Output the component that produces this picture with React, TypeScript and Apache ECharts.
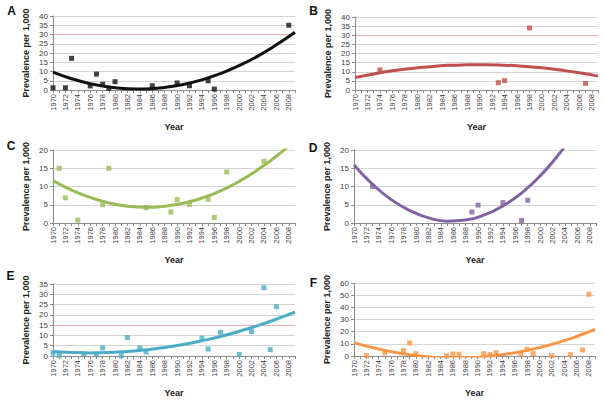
import React, { useEffect, useRef } from "react";
import * as echarts from "echarts";

// ---- data ----
const trendYears = [1970, 1973, 1976, 1979, 1982, 1985, 1988, 1991, 1994, 1997, 2000, 2003, 2006, 2009];

const aYears = [1970, 1972, 1973, 1976, 1977, 1978, 1979, 1980, 1986, 1990, 1992, 1995, 1996, 2008];
const aValues = [1.2, 1.2, 17.1, 2.2, 8.6, 3.1, 0.9, 4.5, 2.3, 3.8, 2.3, 5.0, 0.5, 35];
const aTrend = [9.7, 6.1, 3.4, 1.6, 0.7, 0.6, 1.4, 3.0, 5.5, 8.9, 13.2, 18.3, 24.4, 31.2];

const bYears = [1974, 1993, 1994, 1998, 2007];
const bValues = [11, 4.0, 5.1, 34, 3.6];
const bTrend = [6.9, 8.8, 10.5, 11.8, 12.8, 13.5, 13.8, 13.9, 13.6, 13.0, 12.2, 10.9, 9.4, 7.6];

const cYears = [1971, 1972, 1974, 1978, 1979, 1985, 1989, 1990, 1992, 1995, 1996, 1998, 2004];
const cValues = [15, 6.9, 0.8, 5.0, 15, 4.2, 3.0, 6.4, 5.1, 6.5, 1.5, 14.0, 16.9];
const cTrend = [11.6, 9.0, 7.0, 5.5, 4.6, 4.3, 4.6, 5.4, 6.8, 8.8, 11.4, 14.6, 18.3, 22.6];

const dYears = [1973, 1989, 1990, 1994, 1997, 1998];
const dValues = [10.0, 3.0, 4.9, 5.6, 0.7, 6.2];
const dTrend = [15.9, 10.6, 6.4, 3.4, 1.4, 0.5, 0.8, 2.2, 4.7, 8.2, 12.9, 18.8, 25.7, 33.7];

const eYears = [1970, 1971, 1975, 1977, 1978, 1981, 1982, 1984, 1985, 1994, 1995, 1997, 2000, 2002, 2004, 2005, 2006];
const eValues = [1.5, 0.3, 1.0, 0.9, 4.0, 0.2, 9.0, 3.9, 1.9, 8.7, 3.4, 11.5, 0.8, 11.9, 33.2, 3.1, 24.0];
const eTrend = [2.2, 1.7, 1.5, 1.7, 2.2, 3.0, 4.1, 5.6, 7.4, 9.5, 12.0, 14.8, 17.9, 21.3];

const fYears = [1972, 1975, 1978, 1979, 1980, 1985, 1986, 1987, 1991, 1992, 1993, 1997, 1998, 1999, 2002, 2005, 2007, 2008];
const fValues = [0.3, 2.5, 4.4, 10.7, 1.9, 0.2, 1.6, 1.4, 1.9, 1.1, 2.7, 1.6, 5.5, 1.9, 0.2, 1.1, 4.9, 50.7];
const fTrend = [11.0, 6.9, 3.6, 1.1, -0.6, -1.4, -1.4, -0.6, 1.1, 3.6, 6.9, 11.0, 16.0, 21.8];

const panelLetters = ["A", "B", "C", "D", "E", "F"];
const yMaxes = [40, 40, 20, 20, 35, 60];
const yIntervals = [5, 5, 5, 5, 5, 10];
const highlightLines = [30, 30, null, null, 15, null];
const xMin = 1970;
const xMax = 2009;

// ---- layout / style ----
const layout = [
  { left: 53, top: 16, width: 242, height: 74, lx: 11.5, ly: 10.5 },
  { left: 355, top: 17, width: 243, height: 73, lx: 313.5, ly: 10.5 },
  { left: 53, top: 150, width: 242, height: 73, lx: 11, ly: 146 },
  { left: 354, top: 150, width: 242, height: 73, lx: 313, ly: 147.5 },
  { left: 53, top: 284, width: 242, height: 72, lx: 10.5, ly: 275.5 },
  { left: 354, top: 283, width: 241, height: 73, lx: 313.5, ly: 283 },
];
const colors = ["#111111", "#C0504D", "#9BBB59", "#8064A2", "#4BACC6", "#F79646"];
const FONT = "'Liberation Sans', Arial, sans-serif";
const GRID = "#d4d4d4";
const PINK = "#e6b0b0";

const datasets = [
  [aYears, aValues, aTrend],
  [bYears, bValues, bTrend],
  [cYears, cValues, cTrend],
  [dYears, dValues, dTrend],
  [eYears, eValues, eTrend],
  [fYears, fValues, fTrend],
];

function buildOption() {
  const grid: any[] = [];
  const xAxis: any[] = [];
  const yAxis: any[] = [];
  const series: any[] = [];
  const graphic: any[] = [];

  datasets.forEach(([years, values, trend], i) => {
    const L = layout[i];
    grid.push({ left: L.left, top: L.top, width: L.width, height: L.height, containLabel: false });

    xAxis.push({
      type: "value",
      gridIndex: i,
      min: xMin,
      max: xMax,
      interval: 1,
      name: "Year",
      nameLocation: "middle",
      nameGap: 32,
      nameTextStyle: { fontFamily: FONT, fontSize: 9, fontWeight: "bold", color: "#222" },
      axisLine: { show: true, lineStyle: { color: "#8c8c8c", width: 1 } },
      axisTick: { show: true, length: 3, lineStyle: { color: "#8c8c8c" } },
      axisLabel: {
        rotate: 90,
        margin: 4,
        fontFamily: FONT,
        fontSize: 7.5,
        color: "#404040",
        formatter: (v: number) => (v % 2 === 0 ? String(v) : ""),
      },
      splitLine: { show: false },
    });

    const n = yMaxes[i] / yIntervals[i] + 1;
    const lineColors: string[] = [];
    for (let k = 0; k < n; k++) {
      lineColors.push(highlightLines[i] !== null && k * yIntervals[i] === highlightLines[i] ? PINK : GRID);
    }

    yAxis.push({
      type: "value",
      gridIndex: i,
      min: 0,
      max: yMaxes[i],
      interval: yIntervals[i],
      name: "Prevalence per 1,000",
      nameLocation: "middle",
      nameRotate: 90,
      nameGap: 23,
      nameTextStyle: { fontFamily: FONT, fontSize: 9, fontWeight: "bold", color: "#222" },
      axisLine: { show: true, lineStyle: { color: "#8c8c8c", width: 1 } },
      axisTick: { show: true, length: 3, lineStyle: { color: "#8c8c8c" } },
      axisLabel: { margin: 5, fontFamily: FONT, fontSize: 8, color: "#404040" },
      splitLine: { show: true, lineStyle: { color: lineColors, width: 1 } },
    });

    series.push({
      type: "scatter",
      xAxisIndex: i,
      yAxisIndex: i,
      symbol: "rect",
      symbolSize: 5,
      itemStyle: { color: colors[i] },
      data: years.map((y: number, k: number) => [y, values[k]]),
      z: 2,
    });
    series.push({
      type: "line",
      xAxisIndex: i,
      yAxisIndex: i,
      smooth: true,
      showSymbol: false,
      clip: true,
      lineStyle: { color: colors[i], width: 3 },
      data: trendYears.map((y, k) => [y, trend[k]]),
      z: 3,
    });

    graphic.push({
      type: "text",
      x: L.lx,
      y: L.ly,
      style: {
        text: panelLetters[i],
        font: `bold 12px ${FONT}`,
        fill: "#111",
        textAlign: "center",
        textVerticalAlign: "middle",
      },
    });
  });

  return {
    animation: false,
    backgroundColor: "#ffffff",
    grid,
    xAxis,
    yAxis,
    series,
    graphic,
  };
}

export default function App() {
  const ref = useRef<HTMLDivElement>(null);
  useEffect(() => {
    if (!ref.current) return;
    const chart = echarts.init(ref.current, undefined, { renderer: "svg" });
    chart.setOption(buildOption());
    return () => chart.dispose();
  }, []);
  return (
    <div
      ref={ref}
      style={{ position: "absolute", left: 0, top: 0, width: 604, height: 402 }}
    />
  );
}
